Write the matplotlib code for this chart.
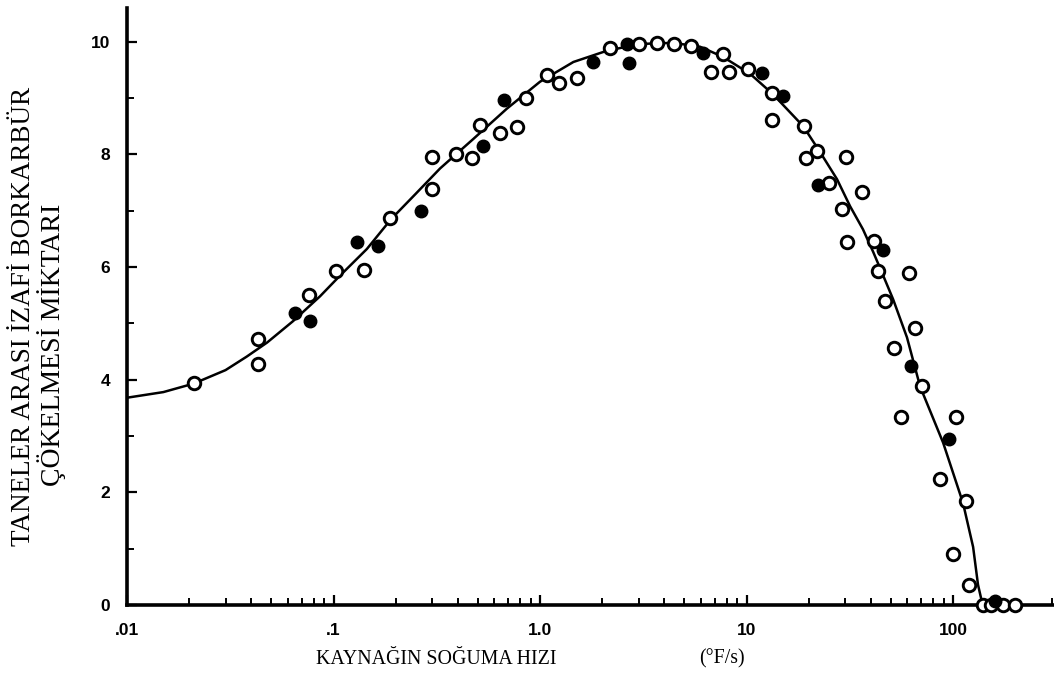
import numpy as np
import matplotlib
matplotlib.use("Agg")
import matplotlib.pyplot as plt
from matplotlib.ticker import FixedLocator, FixedFormatter, LogLocator, NullFormatter

# === data ===
open_x = [0.021, 0.043, 0.043, 0.076, 0.103, 0.14, 0.188, 0.30, 0.30, 0.392,
          0.469, 0.51, 0.64, 0.77, 0.855, 1.08, 1.24, 1.51, 2.18, 3.02,
          3.69, 4.46, 5.38, 6.73, 7.69, 8.22, 10.2, 13.3, 13.3, 19.0,
          21.9, 19.4, 30.4, 25.1, 36.3, 29.0, 30.7, 41.4, 43.4, 61.3,
          46.9, 65.5, 51.8, 70.9, 56.0, 103.5, 86.6, 115.6, 100, 119.5,
          140, 152, 175, 200]
open_y = [3.95, 4.72, 4.27, 5.5, 5.93, 5.94, 6.87, 7.38, 7.95, 8.0,
          7.94, 8.52, 8.38, 8.49, 9.0, 9.41, 9.27, 9.36, 9.88, 9.96,
          9.98, 9.96, 9.93, 9.47, 9.79, 9.47, 9.52, 9.09, 8.61, 8.5,
          8.06, 7.94, 7.95, 7.49, 7.33, 7.03, 6.44, 6.46, 5.93, 5.89,
          5.39, 4.91, 4.56, 3.88, 3.33, 3.33, 2.24, 1.85, 0.91, 0.36,
          0.0, 0.0, 0.0, 0.0]

filled_x = [0.065, 0.077, 0.13, 0.164, 0.265, 0.53, 0.67, 1.81, 2.64, 2.70,
            6.15, 11.9, 15.0, 22.2, 45.8, 62.7, 95.7, 160]
filled_y = [5.18, 5.05, 6.44, 6.37, 6.99, 8.15, 8.97, 9.64, 9.96, 9.63,
            9.80, 9.45, 9.04, 7.46, 6.30, 4.25, 2.95, 0.08]

# fitted curve, traced point by point
curve_x = [0.01, 0.015, 0.021, 0.03, 0.038, 0.0477, 0.0637, 0.086, 0.107, 0.145,
           0.19, 0.25, 0.328, 0.474, 0.69, 1.0, 1.45, 2.11, 3.05, 4.41,
           5.96, 7.69, 10.4, 13.4, 18.8, 22.7, 27.4, 31.7, 36.6, 41.0,
           44.3, 51.2, 59.8, 69.2, 89.5, 111.7, 125, 132, 139]
curve_y = [3.68, 3.78, 3.93, 4.17, 4.41, 4.66, 5.04, 5.48, 5.84, 6.32,
           6.85, 7.3, 7.75, 8.27, 8.81, 9.29, 9.64, 9.84, 9.96, 9.98,
           9.91, 9.73, 9.43, 9.07, 8.5, 8.04, 7.56, 7.08, 6.67, 6.27,
           5.98, 5.43, 4.75, 3.88, 2.88, 1.81, 1.03, 0.36, 0.0]

x_ticks = [0.01, 0.1, 1.0, 10, 100]
x_tick_labels = [".01", ".1", "1.0", "10", "100"]
y_ticks = [0, 2, 4, 6, 8, 10]

# === figure ===
fig = plt.figure(figsize=(10.54, 7.0), dpi=100)
ax = fig.add_axes([0.1205, 0.1357, 0.8795, 0.853])

ax.plot(curve_x, curve_y, color="black", lw=1.8, zorder=2)
ax.plot(open_x, open_y, "o", ms=9, mfc="white", mec="black", mew=2.1,
        ls="none", zorder=3, clip_on=False)
ax.plot(filled_x, filled_y, "o", ms=9, mfc="black", mec="black",
        ls="none", zorder=4, clip_on=False)

ax.set_xscale("log")
ax.set_xlim(0.01, 308)
ax.set_ylim(0, 10.6)

ax.xaxis.set_major_locator(FixedLocator(x_ticks))
ax.xaxis.set_major_formatter(FixedFormatter(x_tick_labels))
ax.xaxis.set_minor_locator(LogLocator(base=10, subs=np.arange(2, 10)))
ax.xaxis.set_minor_formatter(NullFormatter())
ax.set_yticks(y_ticks)
ax.set_yticks([1, 3, 5, 7, 9], minor=True)

for s in ["top", "right"]:
    ax.spines[s].set_visible(False)
for s in ["left", "bottom"]:
    ax.spines[s].set_linewidth(2.6)

ax.tick_params(which="major", direction="in", length=7, width=1.6)
ax.tick_params(which="minor", direction="in", length=5, width=1.4)
ax.tick_params(axis="x", which="major", pad=13)
ax.tick_params(axis="y", which="major", pad=12)
for lab in ax.get_xticklabels() + ax.get_yticklabels():
    lab.set_fontfamily("Liberation Sans")
    lab.set_fontweight("bold")
    lab.set_fontsize(12.5)

fig.text(436 / 1054, 1 - 659 / 700, "KAYNAĞIN SOĞUMA HIZI",
         family="Liberation Serif", fontsize=14.3, ha="center", va="center")
fig.text(722 / 1054, 1 - 659 / 700, "(°F/s)",
         family="Liberation Serif", fontsize=14.3, ha="center", va="center")
# y label, two lines set separately
fig.text(24 / 1054, 1 - 316 / 700, "TANELER ARASI İZAFİ BORKARBÜR",
         family="Liberation Serif", fontsize=19.5, rotation=90,
         ha="center", va="center")
fig.text(52 / 1054, 1 - 345 / 700, "ÇÖKELMESİ MİKTARI",
         family="Liberation Serif", fontsize=20, rotation=90,
         ha="center", va="center")

fig.savefig("out.png", dpi=100)
